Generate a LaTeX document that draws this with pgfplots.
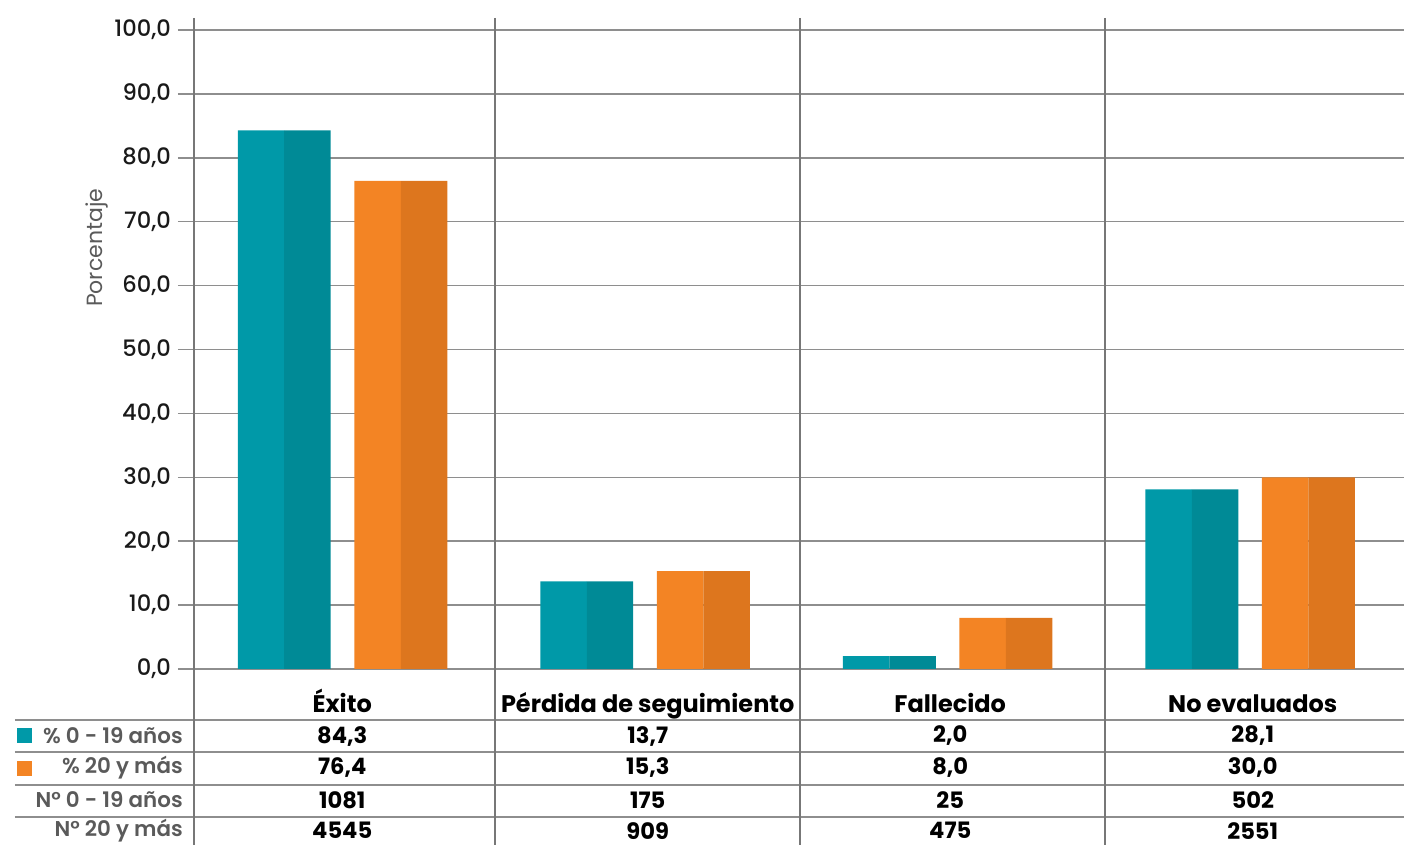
\documentclass[border=0pt]{standalone}
\usepackage{fontspec}
\setmainfont{Poppins}
\newfontfamily\pmed{Poppins Medium}
\newfontfamily\psemi{Poppins SemiBold}
\usepackage{pgfplots}
\usepackage{pgfplotstable}
\pgfplotsset{compat=1.18}
\definecolor{tealL}{HTML}{0099A8}
\definecolor{tealD}{HTML}{008A96}
\definecolor{oraL}{HTML}{F38424}
\definecolor{oraD}{HTML}{DD761E}
\definecolor{gridc}{HTML}{8E8E8E}
\definecolor{sepc}{HTML}{777777}
\definecolor{labc}{HTML}{5A5A5A}

\pgfplotstableread{
x pa pb
0 84.3 76.4
1 13.7 15.3
2 2.0 8.0
3 28.1 30.0
}\data

\newcommand{\fs}{\fontsize{12}{14}\selectfont}
\newcommand{\fv}{\fontsize{11.3}{13}\selectfont}
\newcommand{\fr}{\fontsize{10.7}{13}\selectfont}
\newcommand{\ft}{\fontsize{11.3}{13}\selectfont}

\begin{document}
\begin{tikzpicture}
\begin{axis}[
 scale only axis, width=605pt, height=319.5pt,
 xmin=-0.5, xmax=3.5, ymin=0, ymax=100,
 clip=false,
 axis line style={draw=none},
 xtick=\empty,
 ytick={0,10,...,100},
 ytick pos=left,
 ymajorgrids, grid style={gridc, line width=0.75pt},
 tick align=outside, major tick length=8pt,
 ytick style={gridc, line width=0.75pt},
 yticklabel style={font=\ft\pmed, text=black!90},
 /pgf/number format/.cd, use comma, fixed, fixed zerofill, precision=1, assume math mode=true,
]
\addplot[ybar, bar width=0.1537, bar shift=-0.2785, fill=tealL, draw=none] table[x=x,y=pa]{\data};
\addplot[ybar, bar width=0.1537, bar shift=-0.1248, fill=tealD, draw=none] table[x=x,y=pa]{\data};
\addplot[ybar, bar width=0.1537, bar shift=0.1070, fill=oraL, draw=none] table[x=x,y=pb]{\data};
\addplot[ybar, bar width=0.1537, bar shift=0.2607, fill=oraD, draw=none] table[x=x,y=pb]{\data};

% table lines
\pgfplotsinvokeforeach{-7.98,-12.99,-18.15,-23.16}{
  \draw[gridc, line width=0.75pt] (axis cs:-1.092,#1) -- (axis cs:3.5,#1);}
\pgfplotsinvokeforeach{-0.5,0.495,1.503,2.5116}{
  \draw[sepc, line width=0.75pt] (axis cs:#1,101.88) -- (axis cs:#1,-27.6);}

% category labels
\node[anchor=base, font=\fs\bfseries] at (axis cs:-0.01,-6.75) {Éxito};
\node[anchor=base, font=\fs\bfseries] at (axis cs:1,-6.75) {Pérdida de seguimiento};
\node[anchor=base, font=\fs\bfseries] at (axis cs:2,-6.75) {Fallecido};
\node[anchor=base, font=\fs\bfseries] at (axis cs:3,-6.75) {No evaluados};

% table values
\node[font=\fv\bfseries] at (axis cs:-0.01,-10.49) {84,3};
\node[font=\fv\bfseries] at (axis cs:-0.01,-15.49) {76,4};
\node[font=\fv\bfseries] at (axis cs:-0.01,-20.5) {1081};
\node[font=\fv\bfseries] at (axis cs:-0.01,-25.3) {4545};
\node[font=\fv\bfseries] at (axis cs:1,-10.49) {13,7};
\node[font=\fv\bfseries] at (axis cs:1,-15.49) {15,3};
\node[font=\fv\bfseries] at (axis cs:1,-20.5) {175};
\node[font=\fv\bfseries] at (axis cs:1,-25.3) {909};
\node[font=\fv\bfseries] at (axis cs:2,-10.49) {2,0};
\node[font=\fv\bfseries] at (axis cs:2,-15.49) {8,0};
\node[font=\fv\bfseries] at (axis cs:2,-20.5) {25};
\node[font=\fv\bfseries] at (axis cs:2,-25.3) {475};
\node[font=\fv\bfseries] at (axis cs:3,-10.49) {28,1};
\node[font=\fv\bfseries] at (axis cs:3,-15.49) {30,0};
\node[font=\fv\bfseries] at (axis cs:3,-20.5) {502};
\node[font=\fv\bfseries] at (axis cs:3,-25.3) {2551};

% row labels
\node[anchor=east, inner xsep=0pt, font=\fr\psemi, text=labc] at (axis cs:-0.536,-10.49) {\% 0 - 19 años};
\node[anchor=east, inner xsep=0pt, font=\fr\psemi, text=labc] at (axis cs:-0.536,-15.49) {\% 20 y más};
\node[anchor=east, inner xsep=0pt, font=\fr\psemi, text=labc] at (axis cs:-0.536,-20.5) {N° 0 - 19 años};
\node[anchor=east, inner xsep=0pt, font=\fr\psemi, text=labc] at (axis cs:-0.536,-25.3) {N° 20 y más};
\node[fill=tealL, minimum size=7.5pt, inner sep=0pt] at (axis cs:-1.060,-10.41) {};
\node[fill=oraL, minimum size=7.5pt, inner sep=0pt] at (axis cs:-1.060,-15.57) {};

% y label
\node[rotate=90, font=\fontsize{11}{13}\selectfont, text=labc] at (axis cs:-0.822,65.9) {Porcentaje};

\coordinate (bl) at (axis cs:-1.1413,-27.54);
\coordinate (tr) at (axis cs:3.5,104.69);
\end{axis}
\pgfresetboundingbox
\path[use as bounding box] (bl) rectangle (tr);
\end{tikzpicture}
\end{document}
